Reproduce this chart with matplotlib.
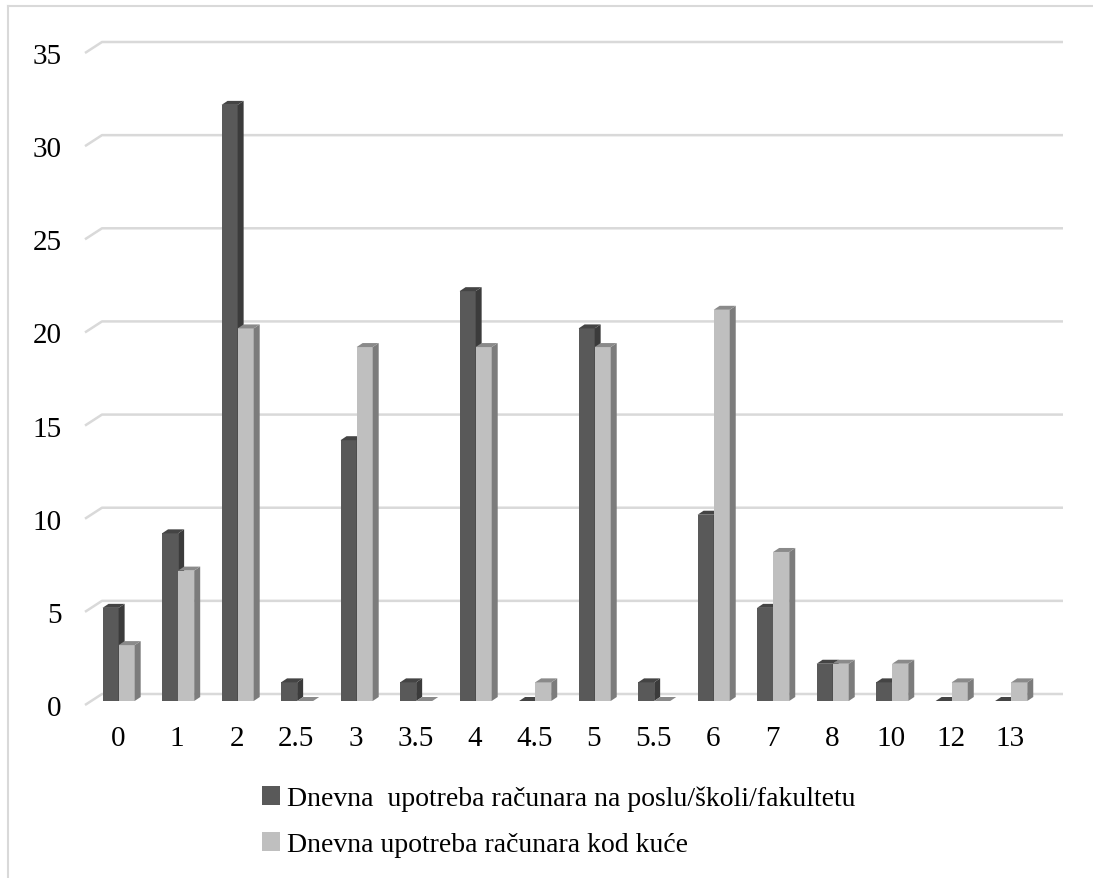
import matplotlib.pyplot as plt
from matplotlib.patches import Polygon, Patch
from matplotlib.lines import Line2D
import matplotlib.transforms as mtransforms

plt.rcParams['font.family'] = ['Liberation Serif', 'DejaVu Serif']

categories = ['0', '1', '2', '2.5', '3', '3.5', '4', '4.5', '5', '5.5', '6', '7', '8', '10', '12', '13']
posao = [5, 9, 32, 1, 14, 1, 22, 0, 20, 1, 10, 5, 2, 1, 0, 0]
kuca = [3, 7, 20, 0, 19, 0, 19, 1, 19, 0, 21, 8, 2, 2, 1, 1]
labels = ['Dnevna  upotreba računara na poslu/školi/fakultetu',
          'Dnevna upotreba računara kod kuće']

W, H = 1093, 879
fig = plt.figure(figsize=(W / 100, H / 100), dpi=100)
ax = fig.add_axes([85 / W, 1 - 702 / H, (1046 - 85) / W, (702 - 50) / H])
xmin, xmax = -0.55, 15.6
ax.set_xlim(xmin, xmax)
ax.set_ylim(0, 35)
for s in ax.spines.values():
    s.set_visible(False)

# pixel -> data unit conversions (axes size is fixed)
px_x = (xmax - xmin) / (1046 - 85)
px_y = 35 / (702 - 50)

# back-wall gridlines with the slanted floor edge on the left
for v in range(0, 36, 5):
    gx = [xmin, xmin + 17 * px_x, xmax + 17 * px_x]
    gy = [v - 4 * px_y, v + 7 * px_y, v + 7 * px_y]
    ax.plot(gx, gy, color='#d9d9d9', lw=1.8, zorder=0, clip_on=False,
            solid_capstyle='butt')

bw = 0.27
dx, dy = 6 * px_x, 4 * px_y
series = [(posao, -0.12, '#595959', '#3b3b3b', '#444444'),
          (kuca, 0.15, '#bfbfbf', '#7c7c7c', '#8a8a8a')]
for vals, off, cf, cs, ct in series:
    xs = [i + off for i in range(len(vals))]
    ax.bar(xs, vals, width=bw, color=cf, zorder=2, clip_on=False)
    for x, v in zip(xs, vals):
        l, r = x - bw / 2, x + bw / 2
        side = Polygon([(r, 0), (r + dx, dy), (r + dx, v + dy), (r, v)],
                       closed=True, facecolor=cs, edgecolor='none', zorder=2, clip_on=False)
        top = Polygon([(l, v), (l + dx, v + dy), (r + dx, v + dy), (r, v)],
                      closed=True, facecolor=ct, edgecolor='none', zorder=2, clip_on=False)
        ax.add_patch(side)
        ax.add_patch(top)

ax.set_xticks(range(len(categories)))
ax.set_xticklabels(categories, fontsize=21)
ax.set_yticks(range(0, 36, 5))
ax.set_yticklabels([str(v) for v in range(0, 36, 5)], fontsize=21)
ax.tick_params(axis='both', length=0)
ax.tick_params(axis='x', pad=17)
ax.tick_params(axis='y', pad=17)
shift = mtransforms.ScaledTranslation(0, -4 / 100, fig.dpi_scale_trans)
for lab in ax.get_yticklabels():
    lab.set_transform(lab.get_transform() + shift)

handles = [Patch(facecolor='#595959'), Patch(facecolor='#bfbfbf')]
fig.legend(handles, labels, loc='upper left', bbox_to_anchor=(262 / W, 1 - 787 / H),
           frameon=False, fontsize=20, handlelength=0.65, handleheight=0.65,
           handletextpad=0.25, labelspacing=0.75, borderaxespad=0, borderpad=0)

# thin outer frame (top and left only)
fig.add_artist(Line2D([8 / W, 1], [1 - 7 / H, 1 - 7 / H], color='#d9d9d9', lw=1.5))
fig.add_artist(Line2D([8 / W, 8 / W], [0, 1 - 7 / H], color='#d9d9d9', lw=1.5))

fig.savefig('out.png', dpi=100)
